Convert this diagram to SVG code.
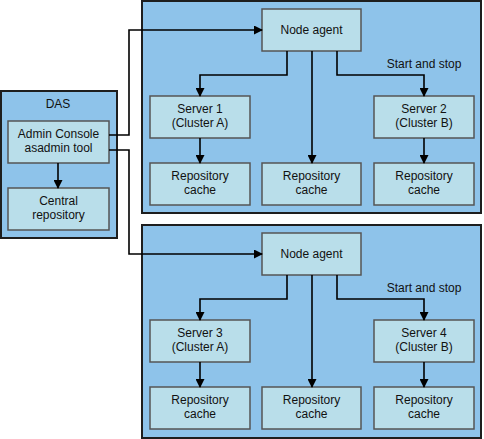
<svg xmlns="http://www.w3.org/2000/svg" width="484" height="439" viewBox="0 0 484 439">
<defs>
<marker id="ah" markerWidth="9" markerHeight="9" refX="8" refY="4.5" orient="auto" markerUnits="userSpaceOnUse">
<path d="M0,0 L9,4.5 L0,9 Z" fill="#000"/>
</marker>
<style>
.outer{fill:#8EC3EA;stroke:#1e1e1e;stroke-width:2}
.box{fill:#B9DEEA;stroke:#555;stroke-width:1.5}
.t{font-family:"Liberation Sans",Arial,sans-serif;font-size:12px;fill:#111;text-anchor:middle}
.c{fill:none;stroke:#000;stroke-width:1.6}
</style>
</defs>
<rect width="484" height="439" fill="#fff"/>

<g id="das"><rect class="outer" x="1" y="91" width="116" height="147"/><text class="t" x="58" y="108">DAS</text></g>
<g id="cluster1"><rect class="outer" x="142" y="1" width="339" height="212"/></g>
<g id="cluster2"><rect class="outer" x="142" y="225" width="339" height="213"/></g>

<g id="admin"><rect class="box" x="8" y="121" width="101" height="42"/><text class="t" x="58.5" y="138">Admin Console</text><text class="t" x="58.5" y="152">asadmin tool</text></g>
<g id="central"><rect class="box" x="8" y="188" width="101" height="42"/><text class="t" x="58.5" y="205">Central</text><text class="t" x="58.5" y="219">repository</text></g>

<g id="nodeagent1"><rect class="box" x="262" y="9" width="99" height="42"/><text class="t" x="311.5" y="34">Node agent</text></g>
<g id="server1"><rect class="box" x="150" y="96" width="100" height="42"/><text class="t" x="200" y="113">Server 1</text><text class="t" x="200" y="127">(Cluster A)</text></g>
<g id="server2"><rect class="box" x="374" y="96" width="100" height="42"/><text class="t" x="424" y="113">Server 2</text><text class="t" x="424" y="127">(Cluster B)</text></g>
<g id="cache1a"><rect class="box" x="150" y="163" width="100" height="42"/><text class="t" x="200" y="180">Repository</text><text class="t" x="200" y="194">cache</text></g>
<g id="cache1b"><rect class="box" x="262" y="163" width="99" height="42"/><text class="t" x="311.5" y="180">Repository</text><text class="t" x="311.5" y="194">cache</text></g>
<g id="cache1c"><rect class="box" x="374" y="163" width="100" height="42"/><text class="t" x="424" y="180">Repository</text><text class="t" x="424" y="194">cache</text></g>
<text class="t" x="424" y="68">Start and stop</text>

<g id="nodeagent2"><rect class="box" x="262" y="233" width="99" height="42"/><text class="t" x="311.5" y="258">Node agent</text></g>
<g id="server3"><rect class="box" x="150" y="320" width="100" height="42"/><text class="t" x="200" y="337">Server 3</text><text class="t" x="200" y="351">(Cluster A)</text></g>
<g id="server4"><rect class="box" x="374" y="320" width="100" height="42"/><text class="t" x="424" y="337">Server 4</text><text class="t" x="424" y="351">(Cluster B)</text></g>
<g id="cache2a"><rect class="box" x="150" y="387" width="100" height="42"/><text class="t" x="200" y="404">Repository</text><text class="t" x="200" y="418">cache</text></g>
<g id="cache2b"><rect class="box" x="262" y="387" width="99" height="42"/><text class="t" x="311.5" y="404">Repository</text><text class="t" x="311.5" y="418">cache</text></g>
<g id="cache2c"><rect class="box" x="374" y="387" width="100" height="42"/><text class="t" x="424" y="404">Repository</text><text class="t" x="424" y="418">cache</text></g>
<text class="t" x="424" y="292">Start and stop</text>

<g id="connectors">
<path class="c" d="M58,163 V188" marker-end="url(#ah)"/>
<path class="c" d="M109,135 H129 V30 H262" marker-end="url(#ah)"/>
<path class="c" d="M109,150 H129 V254 H262" marker-end="url(#ah)"/>

<path class="c" d="M287,51 V75 H200 V96" marker-end="url(#ah)"/>
<path class="c" d="M312,51 V163" marker-end="url(#ah)"/>
<path class="c" d="M337,51 V75 H424 V96" marker-end="url(#ah)"/>
<path class="c" d="M200,138 V163" marker-end="url(#ah)"/>
<path class="c" d="M424,138 V163" marker-end="url(#ah)"/>

<path class="c" d="M287,275 V299 H200 V320" marker-end="url(#ah)"/>
<path class="c" d="M312,275 V387" marker-end="url(#ah)"/>
<path class="c" d="M337,275 V299 H424 V320" marker-end="url(#ah)"/>
<path class="c" d="M200,362 V387" marker-end="url(#ah)"/>
<path class="c" d="M424,362 V387" marker-end="url(#ah)"/>
</g>
</svg>
